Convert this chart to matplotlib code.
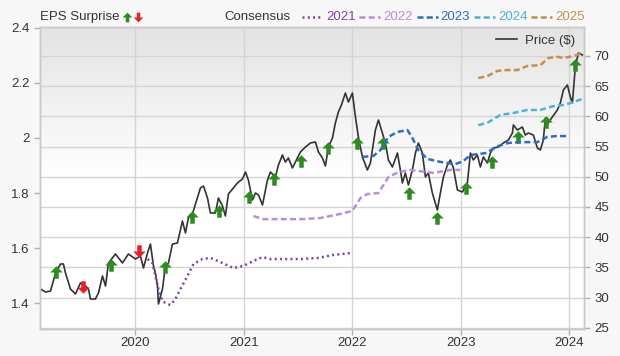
import numpy as np
import matplotlib
matplotlib.use("Agg")
import matplotlib.pyplot as plt
from matplotlib.lines import Line2D
from matplotlib.path import Path
from matplotlib.colors import LinearSegmentedColormap

plt.rcParams["font.family"] = ["Liberation Sans", "DejaVu Sans"]

# price history (decimal years, $)
price_t = [2019.124, 2019.171, 2019.217, 2019.263, 2019.309, 2019.336, 2019.355, 2019.401, 2019.447, 2019.493,
           2019.539, 2019.567, 2019.585, 2019.631, 2019.659, 2019.696, 2019.724, 2019.751, 2019.816, 2019.880,
           2019.935, 2020.000, 2020.046, 2020.074, 2020.111, 2020.138, 2020.166, 2020.184, 2020.203, 2020.212,
           2020.249, 2020.276, 2020.304, 2020.341, 2020.387, 2020.433, 2020.461, 2020.488, 2020.525, 2020.571,
           2020.599, 2020.627, 2020.664, 2020.691, 2020.737, 2020.765, 2020.802, 2020.829, 2020.857, 2020.903,
           2020.940, 2020.986, 2021.014, 2021.041, 2021.078, 2021.106, 2021.134, 2021.171, 2021.217, 2021.244,
           2021.290, 2021.318, 2021.355, 2021.382, 2021.410, 2021.447, 2021.475, 2021.521, 2021.567, 2021.613,
           2021.659, 2021.687, 2021.724, 2021.751, 2021.779, 2021.816, 2021.843, 2021.871, 2021.899, 2021.935,
           2021.963, 2022.000, 2022.028, 2022.055, 2022.092, 2022.138, 2022.166, 2022.212, 2022.240, 2022.276,
           2022.304, 2022.332, 2022.369, 2022.415, 2022.442, 2022.461, 2022.488, 2022.516, 2022.553, 2022.581,
           2022.608, 2022.645, 2022.673, 2022.700, 2022.737, 2022.783, 2022.811, 2022.839, 2022.876, 2022.903,
           2022.931, 2022.968, 2023.014, 2023.060, 2023.088, 2023.115, 2023.152, 2023.180, 2023.207, 2023.244,
           2023.272, 2023.300, 2023.346, 2023.392, 2023.438, 2023.475, 2023.484, 2023.521, 2023.567, 2023.594,
           2023.622, 2023.668, 2023.705, 2023.733, 2023.760, 2023.779, 2023.806, 2023.843, 2023.889, 2023.917,
           2023.945, 2023.982, 2024.009, 2024.028, 2024.055, 2024.083, 2024.120]
price_v = [31.42, 30.93, 31.09, 34.07, 35.56, 35.56, 34.07, 31.42, 30.60, 32.42,
           31.92, 31.42, 29.77, 29.77, 30.76, 33.58, 31.92, 35.73, 37.22, 35.73,
           37.22, 36.39, 36.89, 34.90, 37.38, 38.87, 35.23, 34.07, 31.92, 28.94,
           31.42, 35.23, 35.73, 38.87, 39.04, 42.68, 40.70, 43.18, 43.84, 46.49,
           48.15, 48.48, 46.49, 44.01, 44.01, 46.49, 45.17, 43.51, 47.15, 48.15,
           48.97, 49.64, 50.79, 49.47, 46.16, 47.32, 46.99, 45.33, 49.47, 50.79,
           49.97, 51.95, 53.61, 52.45, 53.11, 51.46, 52.45, 54.11, 54.93, 55.60,
           55.76, 54.11, 53.11, 51.79, 54.93, 56.42, 58.91, 60.73, 61.89, 63.87,
           62.38, 63.87, 59.90, 56.59, 53.28, 51.13, 52.28, 57.75, 59.40, 57.25,
           55.60, 52.78, 51.62, 53.94, 51.13, 48.97, 50.63, 48.64, 51.13, 53.94,
           55.60, 53.94, 49.97, 50.63, 47.32, 44.50, 47.32, 49.97, 51.95, 52.78,
           51.46, 47.81, 47.48, 48.97, 53.94, 52.78, 53.61, 51.62, 53.28, 52.28,
           53.94, 54.77, 54.93, 55.60, 56.09, 57.25, 58.58, 57.75, 58.25, 56.92,
           57.25, 56.92, 54.77, 54.44, 56.09, 59.74, 58.91, 59.90, 61.06, 62.22,
           64.37, 65.20, 63.21, 62.22, 68.18, 70.50, 70.17]

# consensus EPS estimates by fiscal year
cons_2021_t = [2020.111, 2020.157, 2020.184, 2020.212, 2020.249, 2020.295, 2020.323, 2020.369, 2020.415, 2020.479,
               2020.535, 2020.618, 2020.691, 2020.783, 2020.903, 2020.995, 2021.088, 2021.171, 2021.244, 2021.364,
               2021.521, 2021.687, 2021.825, 2022.000]
cons_2021_v = [1.560, 1.545, 1.498, 1.451, 1.407, 1.396, 1.393, 1.415, 1.451, 1.498,
               1.542, 1.560, 1.564, 1.549, 1.527, 1.535, 1.553, 1.567, 1.560, 1.560,
               1.560, 1.564, 1.575, 1.582]
cons_2022_t = [2021.088, 2021.180, 2021.272, 2021.521, 2021.705, 2021.889, 2022.000, 2022.074, 2022.138, 2022.240,
               2022.332, 2022.424, 2022.535, 2022.747, 2022.903, 2022.995]
cons_2022_v = [1.716, 1.705, 1.705, 1.705, 1.709, 1.724, 1.735, 1.782, 1.796, 1.800,
               1.858, 1.876, 1.884, 1.873, 1.884, 1.884]
cons_2023_t = [2022.092, 2022.194, 2022.258, 2022.332, 2022.415, 2022.507, 2022.553, 2022.608, 2022.691, 2022.811,
               2022.949, 2023.023, 2023.088, 2023.226, 2023.346, 2023.438, 2023.548, 2023.705, 2023.797, 2023.880,
               2023.991]
cons_2023_v = [1.931, 1.935, 1.956, 2.004, 2.022, 2.029, 2.000, 1.956, 1.924, 1.913,
               1.905, 1.916, 1.938, 1.945, 1.971, 1.982, 1.985, 1.985, 2.004, 2.007,
               2.007]
cons_2024_t = [2023.161, 2023.244, 2023.364, 2023.484, 2023.613, 2023.733, 2023.853, 2023.945, 2024.009, 2024.120]
cons_2024_v = [2.047, 2.055, 2.084, 2.091, 2.102, 2.102, 2.116, 2.120, 2.127, 2.142]
cons_2025_t = [2023.161, 2023.244, 2023.336, 2023.429, 2023.521, 2023.613, 2023.733, 2023.806, 2023.889, 2023.945,
               2024.037, 2024.120]
cons_2025_v = [2.218, 2.225, 2.244, 2.247, 2.247, 2.262, 2.265, 2.291, 2.295, 2.291,
               2.298, 2.309]

# EPS surprises (placed on the price axis)
beat_t = [2019.263, 2019.770, 2020.276, 2020.525, 2020.774, 2021.051, 2021.281, 2021.530, 2021.779,
          2022.046, 2022.286, 2022.525, 2022.783, 2023.051, 2023.290, 2023.530, 2023.788, 2024.055]
beat_v = [34.24, 35.40, 35.07, 43.34, 44.34, 46.66, 49.64, 52.62, 54.77,
          55.60, 55.60, 47.32, 43.18, 48.15, 52.45, 56.59, 59.07, 68.51]
miss_t = [2019.512, 2020.037]
miss_v = [31.75, 37.72]

year_ticks = [2020, 2021, 2022, 2023, 2024]
price_ticks = [25, 30, 35, 40, 45, 50, 55, 60, 65, 70]
eps_ticks = [1.4, 1.6, 1.8, 2.0, 2.2, 2.4]

cons_years = ["2021", "2022", "2023", "2024", "2025"]
cons_t = [cons_2021_t, cons_2022_t, cons_2023_t, cons_2024_t, cons_2025_t]
cons_v = [cons_2021_v, cons_2022_v, cons_2023_v, cons_2024_v, cons_2025_v]
cons_colors = ["#7a45a6", "#b98fd6", "#2b6fc2", "#4fb0df", "#c58f4b"]
cons_styles = [(0, (0.8, 1.3)), (0, (2.4, 1.3)), (0, (2.4, 1.3)), (0, (2.4, 1.3)), (0, (2.4, 1.3))]

TXT = "#333333"
GRID = "#d4d4d4"
GREEN = "#2e8b1f"
RED = "#e8222a"
FS = 9.5

# arrow marker: triangular head on a short stem
up_arrow = Path([(0, 1), (1, 0.0), (0.36, 0.0), (0.36, -1), (-0.36, -1), (-0.36, 0.0), (-1, 0.0), (0, 1)],
                [Path.MOVETO] + [Path.LINETO] * 6 + [Path.CLOSEPOLY])
down_arrow = Path(up_arrow.vertices * np.array([1, -1]), up_arrow.codes)

fig = plt.figure(figsize=(6.2, 3.56), dpi=100, facecolor="#f7f7f7")
ax = fig.add_axes([40 / 620, 27 / 356, 544 / 620, 302 / 356])
ax2 = ax.twinx()

# gradient background, gray at top fading to white
cmap = LinearSegmentedColormap.from_list("bg", ["#ffffff", "#ffffff", "#e3e3e3"])
grad = np.linspace(0, 1, 256).reshape(-1, 1)
ax.imshow(grad, extent=[0, 1, 0, 1], transform=ax.transAxes, aspect="auto",
          cmap=cmap, origin="lower", zorder=0)

# price axis (primary, ticks on right)
price_line, = ax.plot(price_t, price_v, color="#333333", lw=1.2, zorder=3)
ax.plot(beat_t, beat_v, ls="none", marker=up_arrow, ms=9, color=GREEN, mew=0, zorder=4)
ax.plot(miss_t, miss_v, ls="none", marker=down_arrow, ms=9, color=RED, mew=0, zorder=4)
ax.set_xlim(2019.12, 2024.135)
ax.set_ylim(24.8, 74.8)
ax.set_xticks(year_ticks)
ax.set_xticklabels([str(y) for y in year_ticks])
ax.set_yticks(price_ticks)
ax.yaxis.tick_right()
ax.grid(True, color=GRID, lw=1.0, zorder=1)
ax.set_axisbelow(True)

# EPS axis (twin, ticks on left)
for yr, t, v, c, s in zip(cons_years, cons_t, cons_v, cons_colors, cons_styles):
    ax2.plot(t, v, color=c, lw=1.8, ls=s, zorder=2)
ax2.set_ylim(1.3055, 2.4036)
ax2.set_yticks(eps_ticks)
ax2.set_yticklabels([f"{v:g}" for v in eps_ticks])
ax2.yaxis.tick_left()

for a in (ax, ax2):
    for sp in a.spines.values():
        sp.set_color("#c8c8c8")
        sp.set_linewidth(1.0)
    a.tick_params(colors="#b0b0b0", labelcolor=TXT, labelsize=FS, length=4, width=1)
ax.tick_params(axis="x", pad=2)

ax.legend([price_line], ["Price ($)"], loc="upper right", bbox_to_anchor=(1.005, 1.015),
          frameon=False, fontsize=FS, handlelength=1.6, handletextpad=0.6, labelcolor=TXT)

# header legend
def fx(px):
    return px / 620

hy = 1 - 17 / 356
fig.text(fx(40), hy, "EPS Surprise", fontsize=FS, color=TXT, va="center", ha="left")
fig.add_artist(Line2D([fx(127)], [hy], marker=up_arrow, ms=7, color=GREEN, mew=0, ls="none"))
fig.add_artist(Line2D([fx(138)], [hy], marker=down_arrow, ms=7, color=RED, mew=0, ls="none"))
fig.text(fx(224), hy, "Consensus", fontsize=FS, color=TXT, va="center", ha="left")
for i, (yr, c, s) in enumerate(zip(cons_years, cons_colors, cons_styles)):
    x0 = 302 + i * 57.3
    fig.add_artist(Line2D([fx(x0), fx(x0 + 21)], [hy, hy], color=c, lw=1.8, ls=s))
    fig.text(fx(x0 + 24), hy, yr, fontsize=FS, color=c, va="center", ha="left")

fig.savefig("out.png", dpi=100, facecolor=fig.get_facecolor())
